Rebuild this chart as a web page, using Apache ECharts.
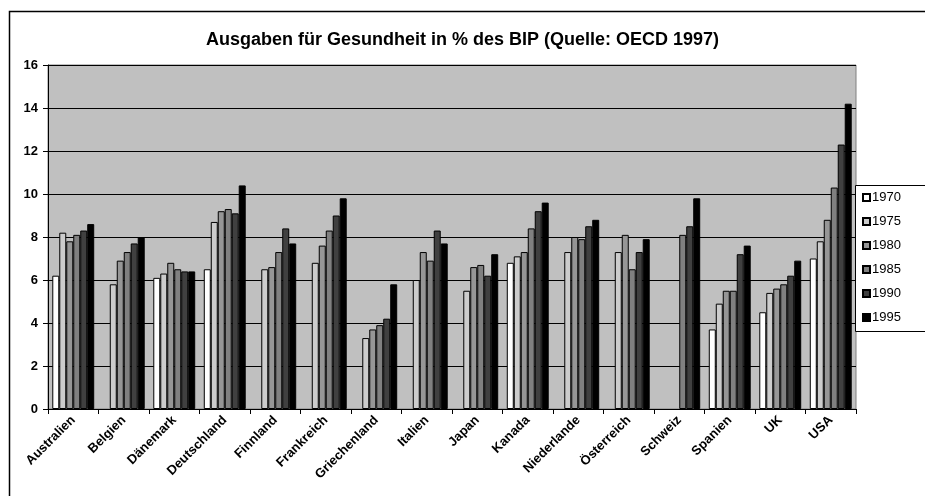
<!DOCTYPE html>
<html>
<head>
<meta charset="utf-8">
<script src="https://cdn.jsdelivr.net/npm/echarts@6/dist/echarts.min.js"></script>
<style>
  html, body { margin: 0; padding: 0; background: #ffffff; }
  #chart { width: 925px; height: 496px; }
</style>
</head>
<body>
<div id="chart"></div>
<script>
// Health expenditure as % of GDP by country and year
const countries = ['Australien', 'Belgien', 'Dänemark', 'Deutschland', 'Finnland', 'Frankreich',
  'Griechenland', 'Italien', 'Japan', 'Kanada', 'Niederlande', 'Österreich', 'Schweiz',
  'Spanien', 'UK', 'USA'];
const years = ['1970', '1975', '1980', '1985', '1990', '1995'];
const v1970 = [6.2, null, 6.1, 6.5, null, null, null, null, null, 6.8, null, null, null, 3.7, 4.5, 7.0];
const v1975 = [8.2, 5.8, 6.3, 8.7, 6.5, 6.8, 3.3, 6.0, 5.5, 7.1, 7.3, 7.3, null, 4.9, 5.4, 7.8];
const v1980 = [7.8, 6.9, 6.8, 9.2, 6.6, 7.6, 3.7, 7.3, 6.6, 7.3, 8.0, 8.1, null, 5.5, 5.6, 8.8];
const v1985 = [8.1, 7.3, 6.5, 9.3, 7.3, 8.3, 3.9, 6.9, 6.7, 8.4, 7.9, 6.5, 8.1, 5.5, 5.8, 10.3];
const v1990 = [8.3, 7.7, 6.4, 9.1, 8.4, 9.0, 4.2, 8.3, 6.2, 9.2, 8.5, 7.3, 8.5, 7.2, 6.2, 12.3];
const v1995 = [8.6, 8.0, 6.4, 10.4, 7.7, 9.8, 5.8, 7.7, 7.2, 9.6, 8.8, 7.9, 9.8, 7.6, 6.9, 14.2];
const yTicks = [0, 2, 4, 6, 8, 10, 12, 14, 16];

const seriesValues = [v1970, v1975, v1980, v1985, v1990, v1995];
const fills = ['#ffffff', '#cccccc', '#969696', '#808080', '#404040', '#000000'];
const font = 'Arial, "Liberation Sans", sans-serif';

const chart = echarts.init(document.getElementById('chart'), null, { renderer: 'canvas' });

const series = years.map((y, i) => ({
  name: y,
  type: 'bar',
  data: seriesValues[i],
  barGap: '0%',
  barCategoryGap: '17%',
  itemStyle: { color: fills[i], borderColor: '#000000', borderWidth: 1 },
  emphasis: { disabled: true }
}));

chart.setOption({
  animation: false,
  backgroundColor: '#ffffff',
  title: {
    text: 'Ausgaben für Gesundheit in % des BIP (Quelle: OECD 1997)',
    left: 'center',
    top: 26,
    textStyle: { fontFamily: font, fontSize: 18, fontWeight: 'bold', color: '#000000' }
  },
  graphic: [
    {
      type: 'rect', left: 7, top: 9, z: -10,
      shape: { width: 930, height: 500 },
      style: { fill: 'none', stroke: '#000000', lineWidth: 1.5 }
    },
    {
      type: 'rect', left: 855, top: 185, z: 10,
      shape: { width: 80, height: 146 },
      style: { fill: '#ffffff', stroke: '#000000', lineWidth: 1 }
    }
  ],
  legend: {
    orient: 'vertical',
    left: 857,
    top: 186,
    z: 20,
    icon: 'rect',
    itemWidth: 7,
    itemHeight: 7,
    itemGap: 11,
    selectedMode: false,
    textStyle: { fontFamily: font, fontSize: 13, color: '#000000', padding: [0, 0, 0, -3] },
    data: years
  },
  grid: {
    left: 48, right: 69, top: 65, bottom: 87,
    show: true, backgroundColor: '#c0c0c0', borderColor: '#808080', borderWidth: 1
  },
  xAxis: {
    type: 'category',
    data: countries,
    boundaryGap: true,
    axisLine: { lineStyle: { color: '#000000', width: 1 } },
    axisTick: { show: true, length: 5, inside: false, lineStyle: { color: '#000000' } },
    axisLabel: {
      rotate: 45, interval: 0, margin: 9,
      fontFamily: font, fontSize: 13, fontWeight: 'bold', color: '#000000'
    }
  },
  yAxis: {
    type: 'value',
    min: yTicks[0], max: yTicks[yTicks.length - 1], interval: 2,
    axisLine: { show: true, lineStyle: { color: '#000000', width: 1 } },
    axisTick: { show: true, length: 5, lineStyle: { color: '#000000' } },
    splitLine: { show: true, lineStyle: { color: '#000000', width: 1 } },
    axisLabel: {
      margin: 10,
      fontFamily: font, fontSize: 13, fontWeight: 'bold', color: '#000000'
    }
  },
  series: series
});
</script>
</body>
</html>
